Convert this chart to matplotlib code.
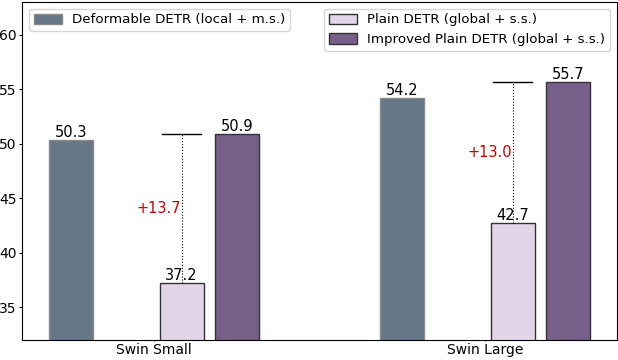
import matplotlib.pyplot as plt
import numpy as np

# data
groups = ['Swin Small', 'Swin Large']
deform_vals = [50.3, 54.2]
plain_vals = [37.2, 42.7]
improved_vals = [50.9, 55.7]
gains = ['+13.7', '+13.0']

c_deform = '#667788'
c_plain = '#e1d5e7'
c_improved = '#76608a'

fig, ax = plt.subplots(figsize=(6.18, 3.6), dpi=100)
fig.subplots_adjust(left=0.036, right=0.998, bottom=0.056, top=0.994)

x = np.arange(len(groups))
slot = 1 / 6
w = 0.8 * slot

b1 = ax.bar(x - 1.5 * slot, deform_vals, w, color=c_deform, edgecolor='#8a8a8a',
            label='Deformable DETR (local + m.s.)')
b2 = ax.bar(x + 0.5 * slot, plain_vals, w, color=c_plain, edgecolor='#333333',
            label='Plain DETR (global + s.s.)')
b3 = ax.bar(x + 1.5 * slot, improved_vals, w, color=c_improved, edgecolor='#333333',
            label='Improved Plain DETR (global + s.s.)')

for bars in (b1, b2, b3):
    for r in bars:
        h = r.get_height()
        ax.text(r.get_x() + r.get_width() / 2, h, f'{h:.1f}', ha='center', va='bottom', fontsize=10.5)

# gain markers
for i in range(len(groups)):
    xc = x[i] + 0.5 * slot
    ax.plot([xc, xc], [plain_vals[i], improved_vals[i]], color='black', linestyle=':', linewidth=0.8)
    ax.plot([xc - 0.06, xc + 0.06], [improved_vals[i], improved_vals[i]], color='black', linewidth=1)
    ax.text(xc, (plain_vals[i] + improved_vals[i]) / 2, gains[i], color='#cc0000',
            ha='right', va='center', fontsize=10.5)

ax.set_ylim(32, 63)
ax.set_xlim(-0.398, 1.398)
ax.set_xticks(x)
ax.set_xticklabels(groups, fontsize=10)
ax.set_yticks([35, 40, 45, 50, 55, 60])
ax.tick_params(axis='y', labelsize=10, length=2.5, pad=1.5)
ax.tick_params(axis='x', length=1, pad=1)

leg_kw = dict(fontsize=9.6, handleheight=0.8, handlelength=2.1, labelspacing=0.5,
              borderpad=0.35, handletextpad=0.8)
leg1 = ax.legend(handles=[b1], loc='upper left', **leg_kw)
ax.add_artist(leg1)
ax.legend(handles=[b2, b3], loc='upper right', **leg_kw)

plt.savefig('out.png', dpi=100)
